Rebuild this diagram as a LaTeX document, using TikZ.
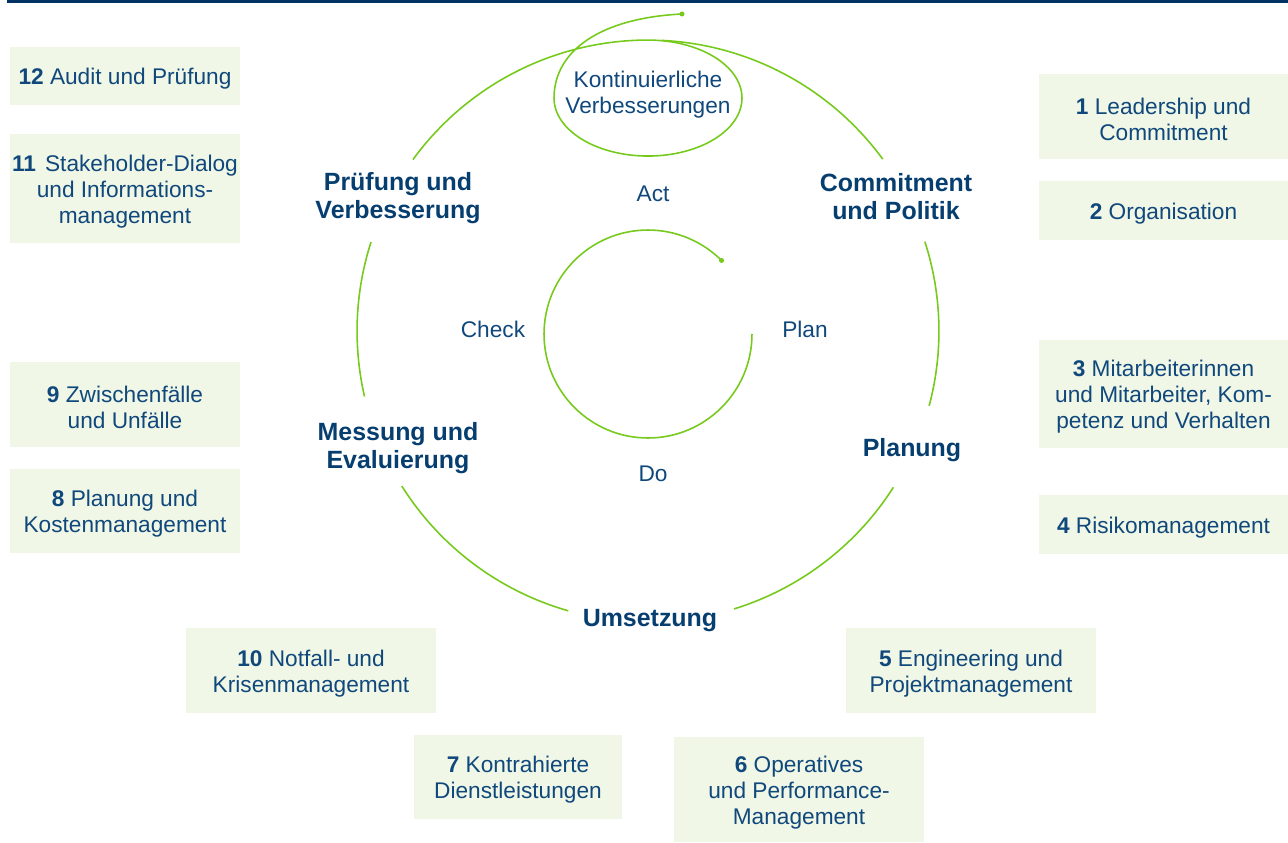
\documentclass[tikz,border=0pt]{standalone}
\usepackage{fontspec}
\setmainfont{Liberation Sans}
\usepackage{xcolor}
\usepackage{tikz}
\usetikzlibrary{positioning,calc}
\definecolor{navytext}{RGB}{16,72,124}
\definecolor{navydark}{RGB}{6,62,112}
\definecolor{navybar}{RGB}{0,50,100}
\definecolor{ringgreen}{RGB}{118,202,28}
\definecolor{boxgreen}{RGB}{240,247,230}
\newcommand{\boxstrut}{\rule{0pt}{12.9pt}}

\begin{document}
\begin{tikzpicture}[
  x=0.02cm, y=0.02cm,
  box/.style={rectangle, fill=boxgreen, align=center, inner sep=0pt, text=navytext, minimum width=4.6cm, minimum height=1.7cm, font=\fontsize{12.9}{14.8}\selectfont},
  phase/.style={align=center, text=navydark, font=\bfseries\fontsize{14.2}{15.9}\selectfont},
  pdca/.style={align=center, text=navytext, font=\fontsize{12.9}{14.8}\selectfont},
  ring/.style={ringgreen, line width=0.9pt}
]
\useasboundingbox (0,0) rectangle (1288,-842);
\fill[navybar] (7,0) rectangle (1288,-3);

% Left column
\node[box, minimum height=1.16cm] (b12) at (125,-76) {\boxstrut\textbf{12} Audit und Prüfung};
\node[box, minimum height=2.18cm] (b11) at (125,-188.5) {\boxstrut\textbf{11}\hspace{0.4em}Stakeholder-Dialog\\und Informations-\\management};
\node[box] (b9) at (125,-404.5) {\boxstrut\textbf{9} Zwischenfälle\\und Unfälle};
\node[box, minimum height=1.68cm] (b8) at (125,-511) {\boxstrut\textbf{8} Planung und\\Kostenmanagement};

% Bottom row
\node[box, minimum width=5cm] (b10) at (311,-670.5) {\boxstrut\textbf{10} Notfall- und\\Krisenmanagement};
\node[box, minimum width=4.16cm, minimum height=1.68cm] (b7) at (518,-777) {\boxstrut\textbf{7} Kontrahierte\\Dienstleistungen};
\node[box, minimum width=5cm, minimum height=2.1cm] (b6) at (799,-789.5) {\boxstrut\textbf{6} Operatives\\und Performance-\\Management};
\node[box, minimum width=5cm] (b5) at (971,-670.5) {\boxstrut\textbf{5} Engineering und\\Projektmanagement};

% Right column
\node[box, minimum width=4.98cm] (b1) at (1163.5,-116.5) {\boxstrut\textbf{1} Leadership und\\Commitment};
\node[box, minimum width=4.98cm, minimum height=1.18cm] (b2) at (1163.5,-210.5) {\boxstrut\textbf{2} Organisation};
\node[box, minimum width=4.98cm, minimum height=2.16cm] (b3) at (1163.5,-394) {\boxstrut\textbf{3} Mitarbeiterinnen\\und Mitarbeiter, Kom-\\petenz und Verhalten};
\node[box, minimum width=4.98cm, minimum height=1.18cm] (b4) at (1163.5,-524.5) {\boxstrut\textbf{4} Risikomanagement};

% Phases
\node[phase] (commit) at (896,-197) {Commitment\\und Politik};
\node[phase] (planung) at (912,-450) {Planung};
\node[phase] (umsetz) at (650,-621) {Umsetzung};
\node[phase] (messung) at (398,-448) {Messung und\\Evaluierung};
\node[phase] (pruef) at (398,-198) {Prüfung und\\Verbesserung};
\node[pdca] (kvb) at (648,-95) {Kontinuierliche\\Verbesserungen};

% PDCA
\node[pdca] (act) at (653,-194) {Act};
\node[pdca] (plan) at (805,-329) {Plan};
\node[pdca] (do) at (653,-474) {Do};
\node[pdca] (check) at (493,-329) {Check};

% Outer cycle
\coordinate (c) at (648,-331);
\draw[ring] ($(c)+(87.3:5.82cm)$) arc[start angle=87.3, end angle=36.2, radius=5.82cm];
\draw[ring] ($(c)+(17.9:5.82cm)$) arc[start angle=17.9, end angle=-14.9, radius=5.82cm];
\draw[ring] ($(c)+(-32.5:5.82cm)$) arc[start angle=-32.5, end angle=-72.8, radius=5.82cm];
\draw[ring] ($(c)+(-105.9:5.82cm)$) arc[start angle=-105.9, end angle=-147.8, radius=5.82cm];
\draw[ring] ($(c)+(-167:5.82cm)$) arc[start angle=-167, end angle=-197.8, radius=5.82cm];
\coordinate (enddot) at (682,-14);
\draw[ring] ($(c)+(143.9:5.82cm)$) arc[start angle=143.9, end angle=90, radius=5.82cm]
  arc[start angle=90, end angle=-180, x radius=1.88cm, y radius=1.16cm]
  .. controls +(0,47) and (600,-18) .. (enddot);
\fill[ringgreen] (enddot) circle[radius=0.05cm];

% Inner cycle
\coordinate (ci) at (648,-334);
\draw[ring] ($(ci)+(0:2.08cm)$) arc[start angle=0, end angle=-315, radius=2.08cm] coordinate (innerdot);
\fill[ringgreen] (innerdot) circle[radius=0.05cm];

\end{tikzpicture}
\end{document}
